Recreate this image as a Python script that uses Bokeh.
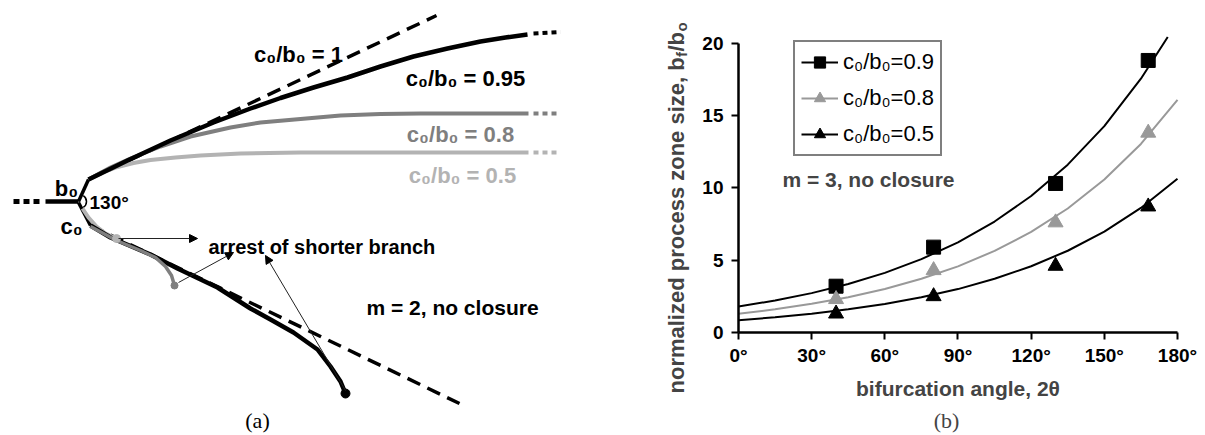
import math
from bokeh.plotting import figure
from bokeh.models import (Range1d, ColumnDataSource, Arrow, NormalHead, Label,
                          Legend, LegendItem, FixedTicker)
from bokeh.layouts import row
from bokeh.embed import file_html
from bokeh.resources import INLINE
from bokeh.core.properties import value

SANS = "Liberation Sans"
SERIF = "Liberation Serif"
GRAY_D = "#7f7f7f"
GRAY_L = "#b3b3b3"

# ---------------- Panel (a): sketch data (image pixel coordinates) ----------------
stem_x = [45, 78]
stem_y = [201, 201]
stem_dot_x = [13, 41]
stem_dot_y = [201, 201]
b0_x = [78, 88]
b0_y = [201, 179]
c0_x = [78, 90]
c0_y = [202, 225]

dash_up_x = [88, 436]
dash_up_y = [179, 15]
dash_dn_x = [90, 459]
dash_dn_y = [225, 403]

c095_x = [88, 127, 170, 213, 250, 280, 313, 347, 380, 413, 447, 480, 505, 527]
c095_y = [179, 160, 140, 122, 108, 97.5, 87, 77, 66, 56, 48, 41, 37, 34]
c08_x = [88, 110, 130, 160, 190, 230, 260, 300, 340, 380, 420, 528]
c08_y = [179, 167, 158, 146, 136, 127, 122, 118.5, 115, 113.5, 113, 113]
c05_x = [88, 100, 115, 133, 150, 175, 200, 240, 300, 528]
c05_y = [179, 172.5, 167, 162.5, 159.5, 157, 155, 153, 152, 152]

ext_x = [533, 560]
ext095_y = [33, 31.5]
ext08_y = [113, 113]
ext05_y = [152, 152]

long_x = [90, 110, 150, 177, 217, 250, 270, 293, 317, 330, 340, 345]
long_y = [225, 237, 254, 268, 287, 308, 319, 332, 349, 366, 381, 393]
short08_x = [90, 116, 140, 155, 165, 171, 174]
short08_y = [226, 240, 250, 257, 266, 275, 285]
short05_x = [82, 88, 96, 105, 116]
short05_y = [208, 217, 226, 233, 238]

end_x = [116, 174, 345]
end_y = [238, 285, 393]
end_col = [GRAY_L, GRAY_D, "black"]
end_r = [4, 3.5, 4.5]

arr_x0 = [118, 178, 345]
arr_y0 = [238, 282, 390]
arr_x1 = [197, 233, 265]
arr_y1 = [238, 252, 255]

ratio_labels = ["c\u2080/b\u2080 = 1", "c\u2080/b\u2080 = 0.95", "c\u2080/b\u2080 = 0.8", "c\u2080/b\u2080 = 0.5"]
ratio_x = [298, 465, 460, 462]
ratio_y = [54, 78, 134, 175]
ratio_col = ["black", "black", GRAY_D, GRAY_L]

# ---------------- Panel (b): data ----------------
angles = [40, 80, 130, 168]
pz_09 = [3.2, 5.9, 10.3, 18.8]
pz_08 = [2.3, 4.3, 7.6, 13.8]
pz_05 = [1.3, 2.5, 4.6, 8.7]

fit_x = [0, 15, 30, 45, 60, 75, 90, 105, 120, 135, 150, 165, 180]
fit_09_x = [0, 15, 30, 45, 60, 75, 90, 105, 120, 135, 150, 165, 176]
fit_09 = [1.80, 2.21, 2.72, 3.35, 4.12, 5.07, 6.23, 7.67, 9.43, 11.60, 14.26, 17.54, 20.42]
fit_08 = [1.30, 1.60, 1.98, 2.44, 3.01, 3.71, 4.57, 5.64, 6.95, 8.57, 10.57, 13.03, 16.08]
fit_05 = [0.85, 1.05, 1.29, 1.60, 1.97, 2.43, 3.00, 3.71, 4.58, 5.65, 6.97, 8.61, 10.62]

x_ticks = [0, 30, 60, 90, 120, 150, 180]
x_tick_labels = ["0\u00b0", "30\u00b0", "60\u00b0", "90\u00b0", "120\u00b0", "150\u00b0", "180\u00b0"]
y_ticks = [0, 5, 10, 15, 20]
legend_labels = ["c\u2080/b\u2080=0.9", "c\u2080/b\u2080=0.8", "c\u2080/b\u2080=0.5"]

# ================= Panel (a) =================
pa = figure(width=600, height=435, x_range=Range1d(0, 600), y_range=Range1d(435, 0),
            min_border=0, x_axis_location=None, y_axis_location=None,
            output_backend="svg", toolbar_location=None)
pa.grid.visible = False
pa.outline_line_color = None

pa.line(stem_dot_x, stem_dot_y, line_width=5, color="black", line_dash="6 4")
pa.line(stem_x, stem_y, line_width=4.5, color="black")
pa.line(b0_x, b0_y, line_width=3.5, color="black")
pa.line(c0_x, c0_y, line_width=3.5, color="black")
pa.arc(x=[79], y=[201], radius=7, start_angle=-1.0, end_angle=1.0,
       line_width=1.5, color="black")

pa.line(dash_up_x, dash_up_y, line_width=3.5, color="black", line_dash="14 8")
pa.line(dash_dn_x, dash_dn_y, line_width=3.5, color="black", line_dash="14 8")

pa.line(c05_x, c05_y, line_width=4, color=GRAY_L, line_join="round")
pa.line(c08_x, c08_y, line_width=4, color=GRAY_D, line_join="round")
pa.line(c095_x, c095_y, line_width=4.5, color="black", line_join="round")
pa.line(ext_x, ext05_y, line_width=4, color=GRAY_L, line_dash="5 4")
pa.line(ext_x, ext08_y, line_width=4, color=GRAY_D, line_dash="5 4")
pa.line(ext_x, ext095_y, line_width=4, color="black", line_dash="5 4")

pa.line(short05_x, short05_y, line_width=4, color=GRAY_L, line_join="round")
pa.line(long_x, long_y, line_width=4.5, color="black", line_join="round")
pa.line(short08_x, short08_y, line_width=3.5, color=GRAY_D, line_join="round")
pa.circle(x=end_x, y=end_y, radius=end_r, color=end_col)

asrc = ColumnDataSource(dict(x0=arr_x0, y0=arr_y0, x1=arr_x1, y1=arr_y1))
pa.add_layout(Arrow(end=NormalHead(size=8, fill_color="black", line_color="black", line_width=1),
                    x_start="x0", y_start="y0", x_end="x1", y_end="y1", source=asrc,
                    line_width=1, line_color="#222222"))

pa.text(x=ratio_x, y=ratio_y, text=ratio_labels, text_color=ratio_col,
        text_font=value(SANS), text_font_style="bold", text_font_size="22px",
        text_align="center", text_baseline="alphabetic")
pa.text(x=[66], y=[188], text=["b\u2080"], text_font=value(SANS), text_font_style="bold",
        text_font_size="22px", text_align="center", text_baseline="alphabetic")
pa.text(x=[71], y=[226], text=["c\u2080"], text_font=value(SANS), text_font_style="bold",
        text_font_size="22px", text_align="center", text_baseline="alphabetic")
pa.text(x=[89], y=[202], text=["130\u00b0"], text_font=value(SANS), text_font_style="bold",
        text_font_size="19px", text_align="left", text_baseline="middle")
pa.text(x=[208], y=[246], text=["arrest of shorter branch"], text_font=value(SANS),
        text_font_style="bold", text_font_size="20px", text_align="left", text_baseline="alphabetic")
pa.text(x=[452], y=[307], text=["m = 2, no closure"], text_font=value(SANS),
        text_font_style="bold", text_font_size="21px", text_align="center", text_baseline="alphabetic")
pa.text(x=[257], y=[420], text=["(a)"], text_font=value(SERIF), text_font_size="22px",
        text_align="center", text_baseline="middle")

# ================= Panel (b) =================
# frame covers the whole canvas; axes are pinned at x=0 / y=0
pb = figure(width=605, height=435, x_range=Range1d(-56.58, 191.48), y_range=Range1d(-7.118, 22.944),
            min_border=0, output_backend="svg", toolbar_location=None)
pb.grid.visible = False
pb.outline_line_color = None

for ax in (pb.xaxis[0], pb.yaxis[0]):
    ax.fixed_location = 0
    ax.axis_line_width = 2.5
    ax.axis_line_color = "black"
    ax.major_tick_line_width = 2
    ax.major_tick_line_color = "black"
    ax.major_tick_out = 7
    ax.major_tick_in = 0
    ax.minor_tick_line_color = None
    ax.major_label_text_font = SANS
    ax.major_label_text_font_style = "bold"
    ax.major_label_text_font_size = "19px"
    ax.major_label_text_color = "black"

pb.xaxis.ticker = FixedTicker(ticks=x_ticks)
pb.xaxis.major_label_overrides = {t: l for t, l in zip(x_ticks, x_tick_labels)}
pb.xaxis.bounds = (0, 180)
pb.xaxis.major_label_standoff = 5
pb.xaxis.axis_label = "bifurcation angle, 2\u03b8"
pb.xaxis.axis_label_text_font = SANS
pb.xaxis.axis_label_text_font_style = "bold"
pb.xaxis.axis_label_text_font_size = "21px"
pb.xaxis.axis_label_standoff = 8

pb.yaxis.ticker = FixedTicker(ticks=y_ticks)
pb.yaxis.bounds = (0, 20)
pb.yaxis.major_label_standoff = 8

l09 = pb.line(fit_09_x, fit_09, line_width=2, color="black")
l08 = pb.line(fit_x, fit_08, line_width=2, color="#999999")
l05 = pb.line(fit_x, fit_05, line_width=2, color="black")
s09 = pb.scatter(angles, pz_09, marker="square", size=14, color="black")
s08 = pb.scatter(angles, pz_08, marker="triangle", size=15, color="#999999")
s05 = pb.scatter(angles, pz_05, marker="triangle", size=15, color="black")

legend = Legend(items=[LegendItem(label=legend_labels[0], renderers=[l09, s09]),
                       LegendItem(label=legend_labels[1], renderers=[l08, s08]),
                       LegendItem(label=legend_labels[2], renderers=[l05, s05])],
                location=(193, 279), orientation="vertical",
                border_line_color="black", border_line_width=2, background_fill_alpha=1,
                label_text_font=SANS, label_text_font_size="22px", label_text_color="black",
                glyph_width=37, glyph_height=28, label_height=28, label_standoff=5,
                spacing=8, padding=6, margin=0)
pb.add_layout(legend)

pb.add_layout(Label(x=18, y=10.6, text="m = 3, no closure", text_font=SANS,
                    text_font_style="bold", text_font_size="21px", text_baseline="middle",
                    text_align="left"))

ytitle = [("normalized process zone size, b", 22, 76, 42),
          ("f", 15, 81, 378.5),
          ("/b", 22, 76, 384),
          ("o", 15, 81, 404)]
for txt, fs, lx, ly in ytitle:
    pb.add_layout(Label(x=lx, y=ly, x_units="screen", y_units="screen", text=txt,
                        angle=math.pi / 2, text_font=SANS, text_font_style="bold",
                        text_font_size=f"{fs}px", text_align="left",
                        text_baseline="alphabetic"))

pb.add_layout(Label(x=346, y=15, x_units="screen", y_units="screen", text="(b)",
                    text_font=SERIF, text_font_size="22px", text_align="center",
                    text_baseline="middle"))

layout = row(pa, pb)
open("out.html", "w").write(file_html(layout, INLINE))
